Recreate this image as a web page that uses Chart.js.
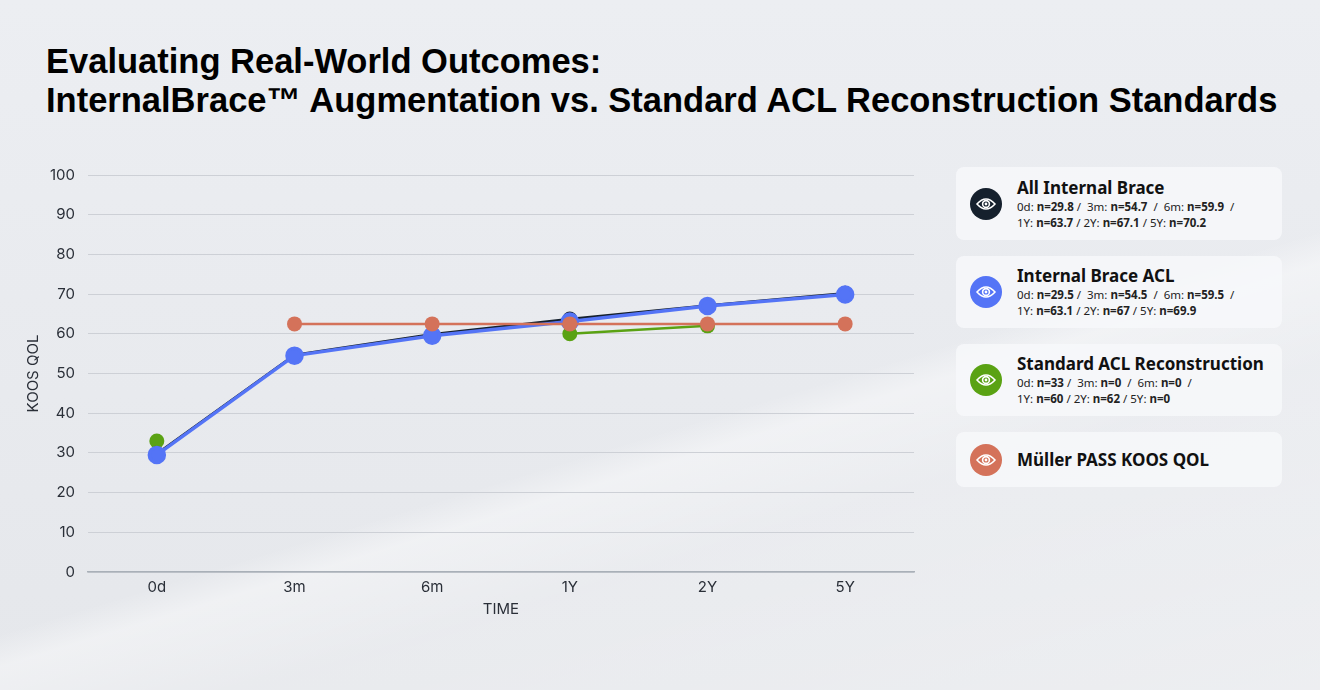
<!DOCTYPE html>
<html>
<head>
<meta charset="utf-8">
<script src="https://cdn.jsdelivr.net/npm/chart.js@4.4.1/dist/chart.umd.min.js"></script>
<style>
  html, body { margin: 0; padding: 0; }
  body {
    width: 1320px; height: 690px; overflow: hidden; position: relative;
    background:
      linear-gradient(163deg, rgba(255,255,255,0) 0%, rgba(255,255,255,0) 58%, rgba(255,255,255,0.4) 61%, rgba(255,255,255,0.15) 70%, rgba(255,255,255,0.3) 100%),
      linear-gradient(180deg, #eceef2 0%, #e5e7eb 100%);
    font-family: "Noto Sans", sans-serif;
  }
  .title {
    position: absolute; left: 46px; top: 42px;
    font-family: "Liberation Sans", Arial, sans-serif; font-weight: bold;
    font-size: 34.5px; line-height: 39px; color: #000;
  }
  .chart-wrap { position: absolute; left: 20px; top: 153px; width: 905px; height: 465px; }
  .legend { position: absolute; left: 956px; top: 167px; width: 326px; }
  .card {
    background: rgba(247,248,250,0.85); border-radius: 8px;
    display: flex; align-items: center; padding: 0 8px 0 14px; box-sizing: border-box;
    margin-bottom: 16px;
  }
  .icon {
    width: 32px; height: 32px; border-radius: 50%; flex: none;
    display: flex; align-items: center; justify-content: center; margin-right: 15px;
  }
  .name { font-weight: bold; font-size: 17px; color: #111; line-height: 22px; }
  .sub { font-size: 11.5px; color: #222; line-height: 16px; white-space: nowrap; }
  .sub b { font-weight: bold; }
</style>
</head>
<body>
<div class="title">Evaluating Real-World Outcomes:<br>InternalBrace™ Augmentation vs. Standard ACL Reconstruction Standards</div>
<div class="chart-wrap"><canvas id="chart"></canvas></div>
<div class="legend" id="legend"></div>
<script>
// Categorías y series
const timepoints = ["0d", "3m", "6m", "1Y", "2Y", "5Y"]
const allInternalBrace = [29.8, 54.7, 59.9, 63.7, 67.1, 70.2]
const internalBraceAcl = [29.5, 54.5, 59.5, 63.1, 67, 69.9]
const standardAcl = [33, null, null, 60, 62, null]
const passKoosQol = [null, 62.5, 62.5, 62.5, 62.5, 62.5]
const yTicks = [0, 10, 20, 30, 40, 50, 60, 70, 80, 90, 100]

// Texto de leyenda (n= por punto)
const allBraceN = ["29.8", "54.7", "59.9", "63.7", "67.1", "70.2"]
const braceAclN = ["29.5", "54.5", "59.5", "63.1", "67", "69.9"]
const standardN = ["33", "0", "0", "60", "62", "0"]

const colors = {
  all: "#15202d",
  acl: "#5474f6",
  std: "#5aa213",
  pass: "#d4725a",
}

const eye = '<svg width="20" height="14" viewBox="0 0 20 14"><path d="M1 7 Q10 -3 19 7 Q10 17 1 7 Z" fill="none" stroke="#fff" stroke-width="1.6"/><circle cx="10" cy="7" r="3.4" fill="none" stroke="#fff" stroke-width="1.6"/><circle cx="10" cy="7" r="1.4" fill="#fff"/></svg>'

function subLine(n) {
  const p = (i) => `${timepoints[i]}: <b>n=${n[i]}</b>`
  return `${p(0)} /&nbsp; ${p(1)} &nbsp;/&nbsp; ${p(2)} &nbsp;/<br>${p(3)} / ${p(4)} / ${p(5)}`
}

const legendItems = [
  { name: "All Internal Brace", color: colors.all, sub: subLine(allBraceN), h: 73 },
  { name: "Internal Brace ACL", color: colors.acl, sub: subLine(braceAclN), h: 72 },
  { name: "Standard ACL Reconstruction", color: colors.std, sub: subLine(standardN), h: 72 },
  { name: "Müller PASS KOOS QOL", color: colors.pass, sub: null, h: 55 },
]

document.getElementById("legend").innerHTML = legendItems.map((it) => `
  <div class="card" style="height:${it.h}px">
    <div class="icon" style="background:${it.color}">${eye}</div>
    <div>
      <div class="name">${it.name}</div>
      ${it.sub ? `<div class="sub">${it.sub}</div>` : ""}
    </div>
  </div>`).join("")

const axisFont = { family: "Inter, 'Noto Sans', sans-serif", size: 15 }

new Chart(document.getElementById("chart"), {
  type: "line",
  data: {
    labels: timepoints,
    datasets: [
      { label: "Müller PASS KOOS QOL", data: passKoosQol, borderColor: colors.pass, backgroundColor: colors.pass, order: 0 },
      { label: "Internal Brace ACL", data: internalBraceAcl, borderColor: colors.acl, backgroundColor: colors.acl, borderWidth: 3.5, order: 1 },
      { label: "All Internal Brace", data: allInternalBrace, borderColor: colors.all, backgroundColor: colors.all, order: 2 },
      { label: "Standard ACL Reconstruction", data: standardAcl, borderColor: colors.std, backgroundColor: colors.std, order: 3 },
    ],
  },
  options: {
    responsive: true,
    maintainAspectRatio: false,
    animation: false,
    spanGaps: false,
    layout: { padding: { top: 1, right: 10 } },
    elements: {
      line: { borderWidth: 2.5, tension: 0 },
      point: { radius: 7.5, borderWidth: 0, hoverRadius: 7.5 },
    },
    plugins: { legend: { display: false }, tooltip: { enabled: false } },
    scales: {
      x: {
        offset: true,
        grid: { display: false, drawTicks: false },
        border: { color: "#a9b0b8", width: 1.5 },
        ticks: { color: "#2a2f38", font: axisFont, padding: 6 },
        title: { display: true, text: "TIME", color: "#2a2f38", font: axisFont, padding: { top: -2, bottom: 0 } },
      },
      y: {
        min: 0,
        max: 100,
        afterBuildTicks: (axis) => { axis.ticks = yTicks.map((v) => ({ value: v })) },
        afterFit: (axis) => { axis.width = 68 },
        grid: { color: "#cdd0d6", lineWidth: 1, drawTicks: false },
        border: { display: false },
        ticks: { color: "#2a2f38", font: axisFont, padding: 13 },
        title: { display: true, text: "KOOS QOL", color: "#2a2f38", font: axisFont, padding: { bottom: 10 } },
      },
    },
  },
})
</script>
</body>
</html>
